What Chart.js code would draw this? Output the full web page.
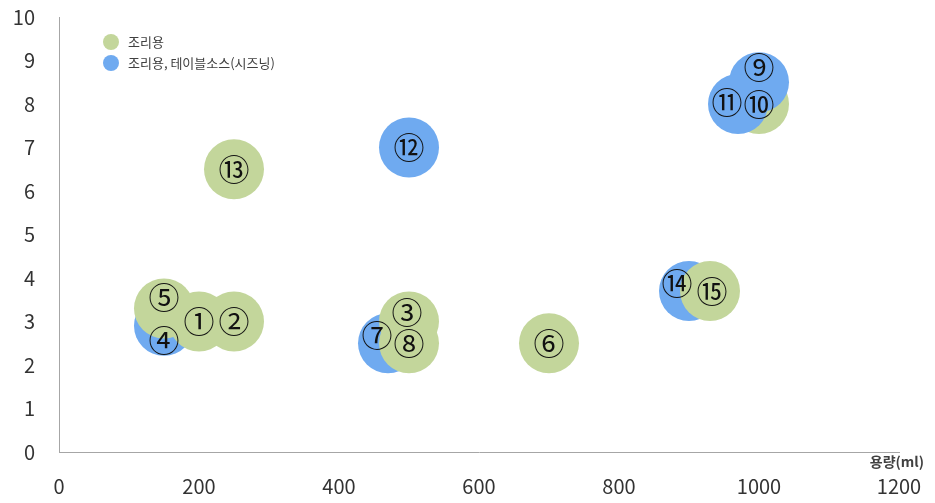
<!DOCTYPE html>
<html>
<head>
<meta charset="utf-8">
<script src="https://cdn.jsdelivr.net/npm/chart.js@4/dist/chart.umd.min.js"></script>
<style>
  html, body { margin: 0; padding: 0; background: #fff; }
</style>
</head>
<body>
<canvas id="chart" width="935" height="503"></canvas>
<script>
// 조리용
const cookNo = [1, 2, 3, 5, 6, 8, 13, 15];
const cookX = [200, 250, 500, 150, 700, 500, 250, 930];
const cookY = [3, 3, 3, 3.3, 2.5, 2.5, 6.5, 3.7];
// no.10 is drawn underneath the blue bubbles in the original
const cookBackNo = [10];
const cookBackX = [1000];
const cookBackY = [8];
// 조리용, 테이블소스(시즈닝)
const tableNo = [4, 7, 9, 11, 12, 14];
const tableX = [150, 470, 1000, 970, 500, 900];
const tableY = [2.9, 2.5, 8.5, 8, 7, 3.7];

const xTicks = [0, 200, 400, 600, 800, 1000, 1200];
const yTicks = [0, 1, 2, 3, 4, 5, 6, 7, 8, 9, 10];

const GREEN = '#C3D69B';
const BLUE = '#6FAAF0';
const BUBBLE_R = 30;
const FONT = "'Noto Sans CJK KR', 'Noto Sans', sans-serif";
const circled = ['①','②','③','④','⑤','⑥','⑦','⑧','⑨','⑩','⑪','⑫','⑬','⑭','⑮'];

// labels that were dragged off-centre in the original
const labelNudge = {3: [-2, -9], 4: [0, 14], 5: [0, -11], 7: [-11, -8], 9: [0, -15], 11: [-11, -2], 14: [-12, -8], 15: [2, 0]};

function points(xs, ys) {
  return xs.map((x, i) => ({ x: x, y: ys[i], r: BUBBLE_R }));
}

const bubbleLabels = {
  id: 'bubbleLabels',
  afterDatasetsDraw(chart) {
    const ctx = chart.ctx;
    ctx.save();
    ctx.font = '31px ' + FONT;
    ctx.fillStyle = '#111';
    ctx.textAlign = 'center';
    ctx.textBaseline = 'middle';
    chart.data.datasets.forEach((ds, i) => {
      chart.getDatasetMeta(i).data.forEach((el, j) => {
        const no = ds.nums[j];
        const d = labelNudge[no] || [0, 0];
        ctx.fillText(circled[no - 1], el.x + d[0], el.y + d[1]);
      });
    });
    ctx.restore();
  }
};

const insideLegend = {
  id: 'insideLegend',
  afterDraw(chart) {
    const ctx = chart.ctx;
    ctx.save();
    ctx.font = '13px ' + FONT;
    ctx.textBaseline = 'middle';
    let y = 42;
    chart.data.datasets.filter(ds => !ds.noLegend).forEach(ds => {
      ctx.fillStyle = ds.backgroundColor;
      ctx.beginPath();
      ctx.arc(111, y, 8, 0, Math.PI * 2);
      ctx.fill();
      ctx.fillStyle = '#404040';
      ctx.fillText(ds.label, 128, y);
      y += 21;
    });
    ctx.restore();
  }
};

const axisTitle = {
  id: 'axisTitle',
  afterDraw(chart) {
    const ctx = chart.ctx;
    ctx.save();
    ctx.font = 'bold 14px ' + FONT;
    ctx.fillStyle = '#404040';
    ctx.textAlign = 'right';
    ctx.textBaseline = 'middle';
    ctx.fillText('용량(ml)', 924, 462);
    ctx.restore();
  }
};

new Chart(document.getElementById('chart'), {
  type: 'bubble',
  data: {
    datasets: [
      { label: '조리용', nums: cookNo, data: points(cookX, cookY), backgroundColor: GREEN, borderWidth: 0 },
      { label: '조리용, 테이블소스(시즈닝)', nums: tableNo, data: points(tableX, tableY), backgroundColor: BLUE, borderWidth: 0 },
      { label: '조리용', nums: cookBackNo, data: points(cookBackX, cookBackY), backgroundColor: GREEN, borderWidth: 0, noLegend: true }
    ]
  },
  options: {
    responsive: false,
    animation: false,
    devicePixelRatio: 1,
    layout: { autoPadding: false, padding: { top: 17, right: 36, left: 0, bottom: 0 } },
    plugins: {
      legend: { display: false },
      tooltip: { enabled: false }
    },
    scales: {
      x: {
        type: 'linear',
        min: xTicks[0],
        max: xTicks[xTicks.length - 1],
        afterBuildTicks: s => { s.ticks = xTicks.map(v => ({ value: v })); },
        afterFit: s => { s.height = 51; s.paddingLeft = 0; s.paddingRight = 0; },
        grid: { display: false, drawTicks: false },
        border: { color: '#A6A6A6', width: 1 },
        ticks: { font: { size: 20, family: FONT }, color: '#333', padding: 22, maxRotation: 0, callback: v => String(v) }
      },
      y: {
        min: yTicks[0],
        max: yTicks[yTicks.length - 1],
        afterBuildTicks: s => { s.ticks = yTicks.map(v => ({ value: v })); },
        afterFit: s => { s.width = 59; s.paddingTop = 0; s.paddingBottom = 0; },
        grid: { display: false, drawTicks: false },
        border: { color: '#A6A6A6', width: 1 },
        ticks: { font: { size: 20, family: FONT }, color: '#333', padding: 24 }
      }
    }
  },
  plugins: [bubbleLabels, insideLegend, axisTitle]
});
</script>
</body>
</html>
